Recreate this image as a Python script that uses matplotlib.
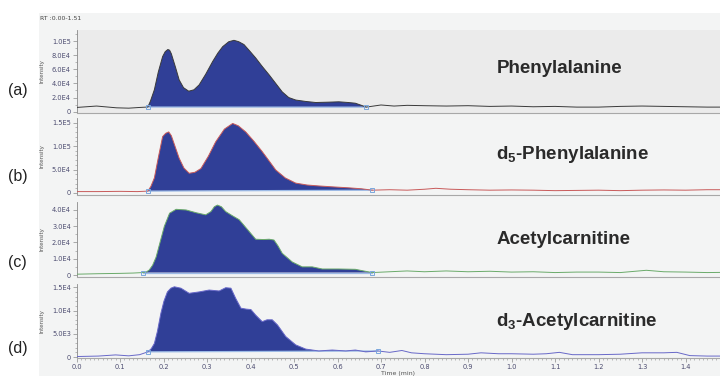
import matplotlib
matplotlib.use("Agg")
import matplotlib.pyplot as plt
from matplotlib.patches import Rectangle
from matplotlib.ticker import MultipleLocator, FuncFormatter

# ---------------- data ----------------
t_a = [0.00, 0.046, 0.092, 0.12, 0.145, 0.164, 0.17, 0.179, 0.188, 0.198, 0.204, 0.210, 0.214,
       0.218, 0.228, 0.236, 0.246, 0.258, 0.27, 0.282, 0.297, 0.313, 0.325, 0.336, 0.35,
       0.362, 0.373, 0.385, 0.398, 0.412, 0.427, 0.443, 0.458, 0.473, 0.488, 0.504, 0.527,
       0.55, 0.58, 0.603, 0.625, 0.641, 0.655, 0.666, 0.70, 0.73, 0.76, 0.80, 0.85, 0.90,
       0.95, 1.00, 1.05, 1.10, 1.15, 1.20, 1.25, 1.30, 1.35, 1.40, 1.45, 1.48]
i_a = [6e3, 8e3, 5.5e3, 5e3, 6e3, 6.6e3, 1.5e4, 3.1e4, 5.6e4, 7.8e4, 8.5e4, 8.8e4, 8.7e4,
       8.2e4, 6.2e4, 4.5e4, 3.4e4, 2.9e4, 3.1e4, 3.8e4, 5.3e4, 7.1e4, 8.3e4, 9.2e4, 9.9e4,
       1.01e5, 9.9e4, 9.5e4, 8.6e4, 7.6e4, 6.4e4, 5.2e4, 4.0e4, 2.8e4, 2.0e4, 1.65e4, 1.45e4,
       1.3e4, 1.35e4, 1.4e4, 1.3e4, 1.2e4, 9e3, 6.5e3, 9.5e3, 8e3, 9e3, 8.5e3, 8e3, 8.5e3,
       7.5e3, 8e3, 7e3, 7.5e3, 6.5e3, 6.5e3, 7.5e3, 8e3, 7.5e3, 7e3, 6.5e3, 6.5e3]
win_a = (0.164, 0.666)

t_b = [0.00, 0.05, 0.10, 0.14, 0.164, 0.171, 0.179, 0.188, 0.198, 0.205, 0.212, 0.218,
       0.227, 0.236, 0.247, 0.259, 0.272, 0.286, 0.303, 0.32, 0.34, 0.359, 0.372, 0.389,
       0.408, 0.427, 0.443, 0.458, 0.48, 0.504, 0.53, 0.557, 0.59, 0.626, 0.655, 0.68,
       0.72, 0.76, 0.80, 0.826, 0.86, 0.90, 0.95, 1.00, 1.05, 1.10, 1.15, 1.20, 1.25,
       1.30, 1.35, 1.40, 1.45, 1.48]
i_b = [3e3, 3e3, 3.5e3, 3e3, 4e3, 1.4e4, 3.2e4, 7.5e4, 1.2e5, 1.27e5, 1.3e5, 1.22e5,
       9.8e4, 7.4e4, 5.3e4, 4.2e4, 4.4e4, 5.2e4, 7.8e4, 1.09e5, 1.36e5, 1.48e5, 1.43e5, 1.3e5,
       1.1e5, 8.8e4, 6.8e4, 4.9e4, 3.2e4, 2.1e4, 1.7e4, 1.5e4, 1.3e4, 1.1e4, 9e3, 6e3,
       7e3, 6e3, 8e3, 1.0e4, 8e3, 7e3, 6e3, 6.5e3, 6e3, 5e3, 5.5e3, 6e3, 5e3,
       6e3, 6.5e3, 6e3, 7e3, 7e3]
win_b = (0.164, 0.68)

t_c = [0.00, 0.05, 0.10, 0.13, 0.152, 0.160, 0.167, 0.175, 0.183, 0.192, 0.202, 0.214,
       0.229, 0.252, 0.275, 0.297, 0.309, 0.317, 0.324, 0.333, 0.343, 0.358, 0.374, 0.393,
       0.412, 0.43, 0.443, 0.454, 0.463, 0.473, 0.496, 0.519, 0.542, 0.565, 0.603, 0.641,
       0.66, 0.68, 0.72, 0.76, 0.80, 0.85, 0.90, 0.95, 1.00, 1.05, 1.10, 1.15, 1.20, 1.25,
       1.31, 1.35, 1.40, 1.45, 1.48]
i_c = [500, 800, 1000, 1200, 1500, 1.8e3, 3e3, 6e3, 1.1e4, 2.0e4, 3.0e4, 3.8e4,
       4.04e4, 4.0e4, 3.83e4, 3.7e4, 3.9e4, 4.2e4, 4.3e4, 4.2e4, 3.9e4, 3.65e4, 3.4e4, 2.8e4,
       2.2e4, 2.18e4, 2.2e4, 2.15e4, 1.8e4, 1.33e4, 8e3, 5e3, 5e3, 3.7e3, 3.7e3, 3.5e3,
       2.5e3, 1.5e3, 2e3, 2.5e3, 2e3, 2.5e3, 2e3, 2.3e3, 1.8e3, 2e3, 1.5e3, 1.8e3, 1.8e3, 1.5e3,
       2.9e3, 2e3, 1.8e3, 1.5e3, 1.6e3]
win_c = (0.152, 0.68)

t_d = [0.00, 0.05, 0.09, 0.12, 0.145, 0.164, 0.172, 0.179, 0.186, 0.194, 0.201, 0.209,
       0.217, 0.225, 0.24, 0.259, 0.282, 0.305, 0.328, 0.343, 0.355, 0.366, 0.378, 0.39,
       0.401, 0.412, 0.427, 0.438, 0.45, 0.462, 0.481, 0.504, 0.527, 0.557, 0.588, 0.619,
       0.641, 0.665, 0.693, 0.72, 0.748, 0.77, 0.80, 0.85, 0.90, 0.93, 0.97, 1.00, 1.05,
       1.08, 1.11, 1.14, 1.20, 1.25, 1.30, 1.35, 1.38, 1.41, 1.45, 1.48]
i_d = [100, 200, 450, 250, 500, 1.1e3, 1.8e3, 2.9e3, 5.5e3, 9.4e3, 1.2e4, 1.4e4,
       1.48e4, 1.51e4, 1.48e4, 1.37e4, 1.4e4, 1.44e4, 1.42e4, 1.49e4, 1.48e4, 1.26e4, 1.05e4, 1.03e4,
       1.02e4, 9.0e3, 7.6e3, 8.0e3, 8.0e3, 6.9e3, 4.4e3, 2.6e3, 1.7e3, 1.3e3, 1.5e3, 1.3e3,
       1.5e3, 1.1e3, 1.3e3, 1e3, 1.4e3, 900, 700, 500, 600, 900, 700, 700, 600,
       700, 1.0e3, 500, 500, 600, 900, 900, 1.0e3, 300, 200, 200]
win_d = (0.164, 0.693)

panel_letters = ["(a)", "(b)", "(c)", "(d)"]
compound_names = ["Phenylalanine", r"d$_{\mathregular{5}}$-Phenylalanine",
                  "Acetylcarnitine", r"d$_{\mathregular{3}}$-Acetylcarnitine"]
line_colors = ["#3a3a3a", "#c85a5a", "#6aaa6a", "#6868c8"]
y_limits = [(-1.84e3, 1.156e5), (-3.2e3, 1.596e5), (-920, 4.49e4), (-215, 1.57e4)]
y_major = [2e4, 5e4, 1e4, 5e3]
y_minor = [1e4, 1e4, 5e3, 1e3]
x_ticks = [0.0, 0.1, 0.2, 0.3, 0.4, 0.5, 0.6, 0.7, 0.8, 0.9, 1.0, 1.1, 1.2, 1.3, 1.4]

# ---------------- layout (pixel based) ----------------
W, H = 720, 376
fig = plt.figure(figsize=(W / 100, H / 100), dpi=100)
fig.patch.set_facecolor("white")
fig.add_artist(Rectangle((39 / W, 0), 1 - 39 / W, 1 - 13 / H, transform=fig.transFigure,
                         facecolor="#f3f4f4", edgecolor="none", zorder=0))

boxes = [(30, 113), (118, 194.5), (202, 276.5), (284, 358)]
letter_y = [90, 176, 262, 348]
name_base = [73, 159, 244, 326]
fill_col = "#303f97"
tick_col = "#4c4c70"

def fmt(v, pos):
    if abs(v) < 1e-9:
        return "0"
    s = "%.1E" % v
    m, e = s.split("E")
    return "%sE%d" % (m, int(e))

series = [(t_a, i_a, win_a), (t_b, i_b, win_b), (t_c, i_c, win_c), (t_d, i_d, win_d)]
xmax = (W - 76.5) / 435.0

for k, ((tt, ii, win), (top, bot)) in enumerate(zip(series, boxes)):
    ax = fig.add_axes([76.5 / W, 1 - bot / H, 1 - 76.5 / W, (bot - top) / H])
    ax.set_facecolor("#ebebeb" if k == 0 else "#f3f4f4")
    ax.set_xlim(0, xmax)
    ax.set_ylim(*y_limits[k])
    seg_t = [t for t in tt if win[0] <= t <= win[1]]
    seg_i = [v for t, v in zip(tt, ii) if win[0] <= t <= win[1]]
    ax.fill(seg_t, seg_i, color=fill_col, lw=0, zorder=2)
    ax.plot([seg_t[0], seg_t[-1]], [seg_i[0], seg_i[-1]], color="#9dbbe6", lw=0.9, zorder=3)
    ax.plot(tt, ii, color=line_colors[k], lw=0.7, zorder=4)
    ax.plot([seg_t[0], seg_t[-1]], [seg_i[0], seg_i[-1]], ls="none", marker="s", ms=3,
            mfc="none", mec="#7aa6dc", mew=0.7, zorder=5)
    for s in ["top", "right"]:
        ax.spines[s].set_visible(False)
    ax.spines["left"].set_color("#8a8a8a")
    ax.spines["left"].set_linewidth(0.6)
    ax.spines["bottom"].set_color("#a8a8a8")
    ax.spines["bottom"].set_linewidth(0.8)
    ax.yaxis.set_major_locator(MultipleLocator(y_major[k]))
    ax.yaxis.set_minor_locator(MultipleLocator(y_minor[k]))
    ax.yaxis.set_major_formatter(FuncFormatter(fmt))
    ax.tick_params(axis="y", which="major", length=3, width=0.5, color="#8a8a8a",
                   labelsize=4.8, labelcolor=tick_col, pad=1)
    ax.tick_params(axis="y", which="minor", length=1.5, width=0.4, color="#8a8a8a")
    ax.set_ylabel("Intensity", fontsize=4, color="#555555", labelpad=4)
    ax.yaxis.set_label_coords(-32 / W * (1 / (1 - 76.5 / W)), 0.5)
    if k < 3:
        ax.tick_params(axis="x", which="both", bottom=False, labelbottom=False)
    else:
        ax.set_xticks(x_ticks)
        ax.xaxis.set_minor_locator(MultipleLocator(0.01))
        ax.tick_params(axis="x", which="major", length=3, width=0.5, color="#8a8a8a",
                       labelsize=4.8, labelcolor=tick_col, pad=1.5)
        ax.tick_params(axis="x", which="minor", length=1.5, width=0.4, color="#8a8a8a")
        ax.set_xlabel("Time (min)", fontsize=4.5, color="#555555", labelpad=0.5)
    fig.text(8 / W, 1 - letter_y[k] / H, panel_letters[k], fontsize=11.5, color="#222222",
             va="center", ha="left", family="Liberation Sans")
    fig.text(496.5 / W, 1 - name_base[k] / H, compound_names[k], fontsize=13.5,
             color="#2a2a2a", va="baseline", ha="left", family="Liberation Sans",
             weight="bold")

fig.text(40 / W, 1 - 19 / H, "RT :0.00-1.51", fontsize=4.5, color="#444444",
         va="center", ha="left")

fig.savefig("out.png", dpi=100, facecolor="white")
